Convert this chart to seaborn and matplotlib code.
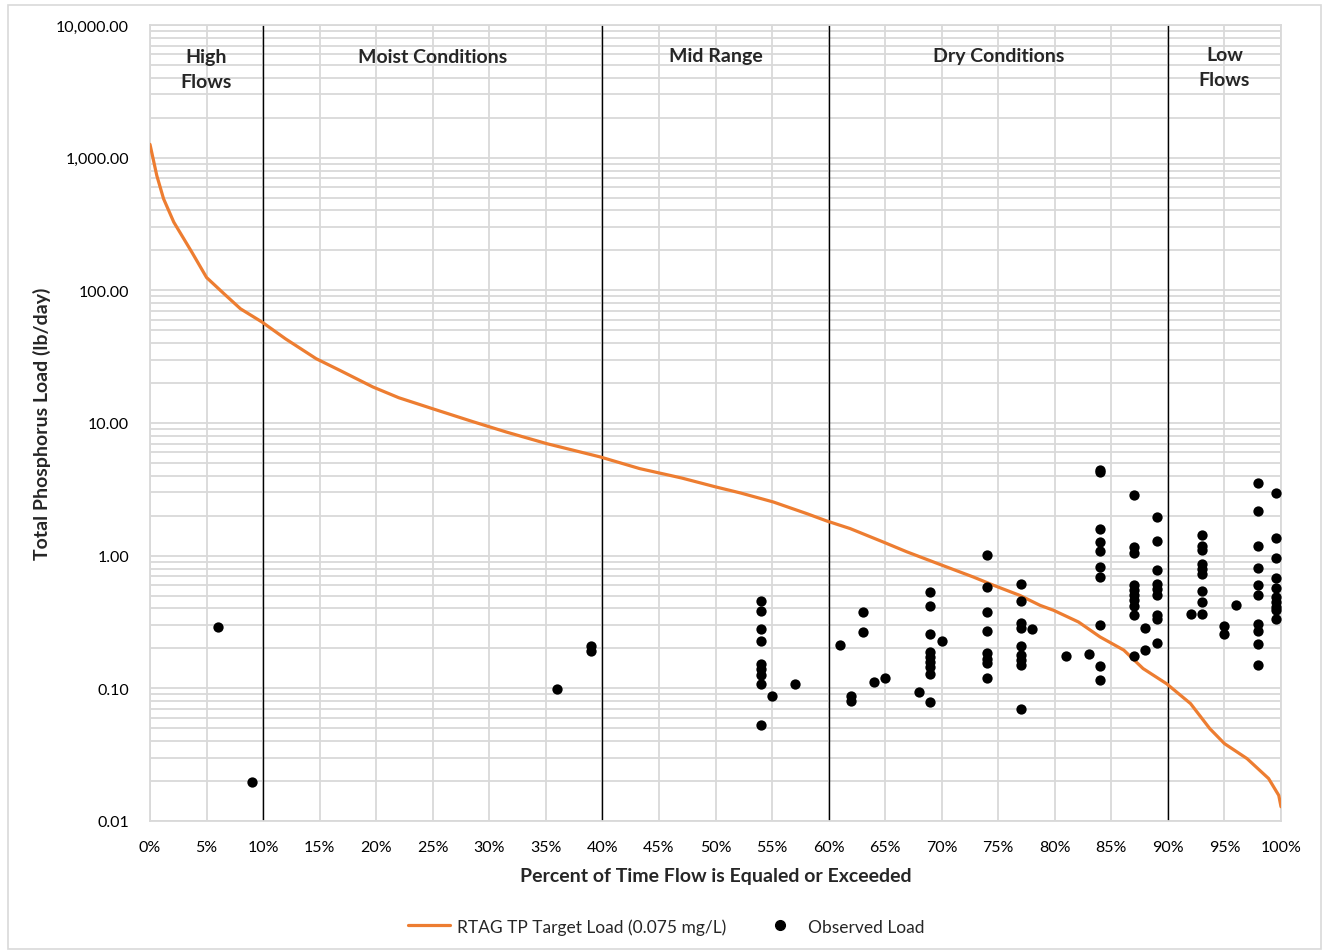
import numpy as np
import pandas as pd
import matplotlib
matplotlib.use("Agg")
import matplotlib.pyplot as plt
import matplotlib.ticker as mticker
from matplotlib.patches import Rectangle
from matplotlib.lines import Line2D
import seaborn as sns

# Load duration curve (percent of time exceeded, lb/day)
curve_pct = [0, 0.6, 1.2, 2.1, 3.7, 5.0, 6.5, 8.0, 9.9, 12.0, 14.7, 16.8, 19.7, 22.0, 25.0,
             28.6, 31.5, 35.1, 39.8, 43.3, 47.0, 50.0, 52.2, 55.1, 58.1, 59.8, 61.9,
             64.8, 66.9, 69.9, 72.8, 74.6, 76.9, 78.7, 79.9, 82.1, 84.0, 86.1,
             87.8, 89.9, 92.0, 93.7, 95.0, 97.0, 98.9, 99.8, 100]
curve_load = [1260, 734, 490, 327, 194, 125, 95, 72.6, 57.7, 43, 30.5, 24.9, 18.7, 15.5, 12.8,
              10.2, 8.55, 6.98, 5.55, 4.53, 3.85, 3.3, 2.97, 2.54, 2.07, 1.83, 1.60,
              1.27, 1.07, 0.855, 0.690, 0.597, 0.502, 0.422, 0.387, 0.316, 0.244, 0.194,
              0.141, 0.108, 0.0767, 0.0497, 0.0383, 0.0295, 0.0209, 0.0156, 0.0128]

# Observed loads grouped by flow percentile
obs = {
    6: [0.29],
    9: [0.0195],
    36: [0.098],
    39: [0.21, 0.19],
    54: [0.458, 0.383, 0.282, 0.228, 0.153, 0.141, 0.125, 0.108, 0.053],
    55: [0.087],
    57: [0.108],
    61: [0.213],
    62: [0.088, 0.080],
    63: [0.378, 0.267],
    64: [0.111],
    65: [0.120],
    68: [0.093],
    69: [0.532, 0.420, 0.255, 0.188, 0.172, 0.158, 0.145, 0.129, 0.079],
    70: [0.229],
    74: [1.02, 0.581, 0.378, 0.271, 0.186, 0.167, 0.154, 0.119],
    77: [0.608, 0.458, 0.313, 0.285, 0.209, 0.177, 0.163, 0.149, 0.0695],
    78: [0.282],
    81: [0.176],
    83: [0.182],
    84: [4.4, 4.25, 1.59, 1.27, 1.08, 0.822, 0.691, 0.302, 0.148, 0.115],
    87: [2.85, 1.16, 1.05, 0.605, 0.548, 0.508, 0.460, 0.418, 0.355, 0.174],
    88: [0.287, 0.193],
    89: [1.96, 1.30, 0.785, 0.616, 0.564, 0.502, 0.355, 0.335, 0.221],
    92: [0.366],
    93: [1.42, 1.18, 1.11, 0.87, 0.80, 0.73, 0.538, 0.448, 0.366],
    95: [0.295, 0.255],
    96: [0.422],
    98: [3.53, 2.17, 1.18, 0.81, 0.597, 0.502, 0.307, 0.269, 0.217, 0.151],
    99.6: [2.98, 1.37, 0.966, 0.683, 0.571, 0.488, 0.448, 0.411, 0.387, 0.331],
}

zone_breaks = [10, 40, 60, 90]
zone_labels = ["High\nFlows", "Moist Conditions", "Mid Range", "Dry Conditions", "Low\nFlows"]
zone_centers = [5, 25, 50, 75, 95]
zone_y = [0.971, 0.971, 0.973, 0.973, 0.974]

y_major = [0.01, 0.1, 1, 10, 100, 1000, 10000]

curve_df = pd.DataFrame({"Percent": curve_pct, "Load": curve_load})
obs_df = pd.DataFrame([(p, v) for p, vals in obs.items() for v in vals],
                      columns=["Percent", "Load"])

sns.set_style("white")
plt.rcParams["font.family"] = ["Lato", "DejaVu Sans"]

orange = "#ED7D31"
grid_c = "#D9D9D9"

fig = plt.figure(figsize=(13.25, 9.53), dpi=100)
ax = fig.add_axes([0.1132, 0.1375, 0.8536, 0.8352])

sns.lineplot(data=curve_df, x="Percent", y="Load", color=orange, linewidth=2.3, ax=ax, zorder=3)
sns.scatterplot(data=obs_df, x="Percent", y="Load", color="black", s=55, edgecolor="black",
                linewidth=0, ax=ax, zorder=4)

ax.set_yscale("log")
ax.set_ylim(0.01, 10000)
ax.set_xlim(0, 100)

# minor lines at 2..9 of each decade, kept inside the axis range
y_minor = [m * d for d in y_major[:-1] for m in range(2, 10)]
ax.yaxis.set_major_locator(mticker.FixedLocator(y_major))
ax.yaxis.set_minor_locator(mticker.FixedLocator(y_minor))
ax.yaxis.set_major_formatter(mticker.FuncFormatter(lambda v, p: f"{v:,.2f}"))
ax.yaxis.set_minor_formatter(mticker.NullFormatter())
ax.set_xticks(np.arange(0, 101, 5))
ax.xaxis.set_major_formatter(mticker.FuncFormatter(lambda v, p: f"{v:.0f}%"))

ax.grid(True, which="major", axis="both", color=grid_c, linewidth=1.3, zorder=0)
ax.grid(True, which="minor", axis="y", color=grid_c, linewidth=1.3, zorder=0)
ax.set_axisbelow(True)
ax.tick_params(axis="both", which="both", length=0, labelsize=11.5, colors="black")
ax.tick_params(axis="x", pad=14)
ax.tick_params(axis="y", pad=15)
for s in ax.spines.values():
    s.set_color(grid_c)
    s.set_linewidth(1.3)

for b in zone_breaks:
    ax.axvline(b, color="black", linewidth=1.0, zorder=2)

for c, yy, lab in zip(zone_centers, zone_y, zone_labels):
    ax.text(c, yy, lab, transform=ax.get_xaxis_transform(), ha="center", va="top",
            fontsize=14, fontweight="bold", linespacing=1.6, zorder=5)

ax.set_xlabel("Percent of Time Flow is Equaled or Exceeded", fontsize=14,
              fontweight="bold", labelpad=9)
ax.set_ylabel("Total Phosphorus Load (lb/day)", fontsize=14, fontweight="bold", labelpad=4)

handles = [Line2D([0], [0], color=orange, linewidth=2.3),
           Line2D([0], [0], marker="o", color="none", markerfacecolor="black",
                  markeredgecolor="black", markersize=7)]
fig.legend(handles, ["RTAG TP Target Load (0.075 mg/L)", "Observed Load"],
           loc="center", bbox_to_anchor=(0.503, 0.027), ncol=2, frameon=False,
           fontsize=12.5, handlelength=2.4, handletextpad=0.4, columnspacing=1.9)

fig.patches.append(Rectangle((0.006, 0.003), 0.991, 0.991, transform=fig.transFigure,
                             fill=False, edgecolor=grid_c, linewidth=1.2))

fig.savefig("out.png", dpi=100)
